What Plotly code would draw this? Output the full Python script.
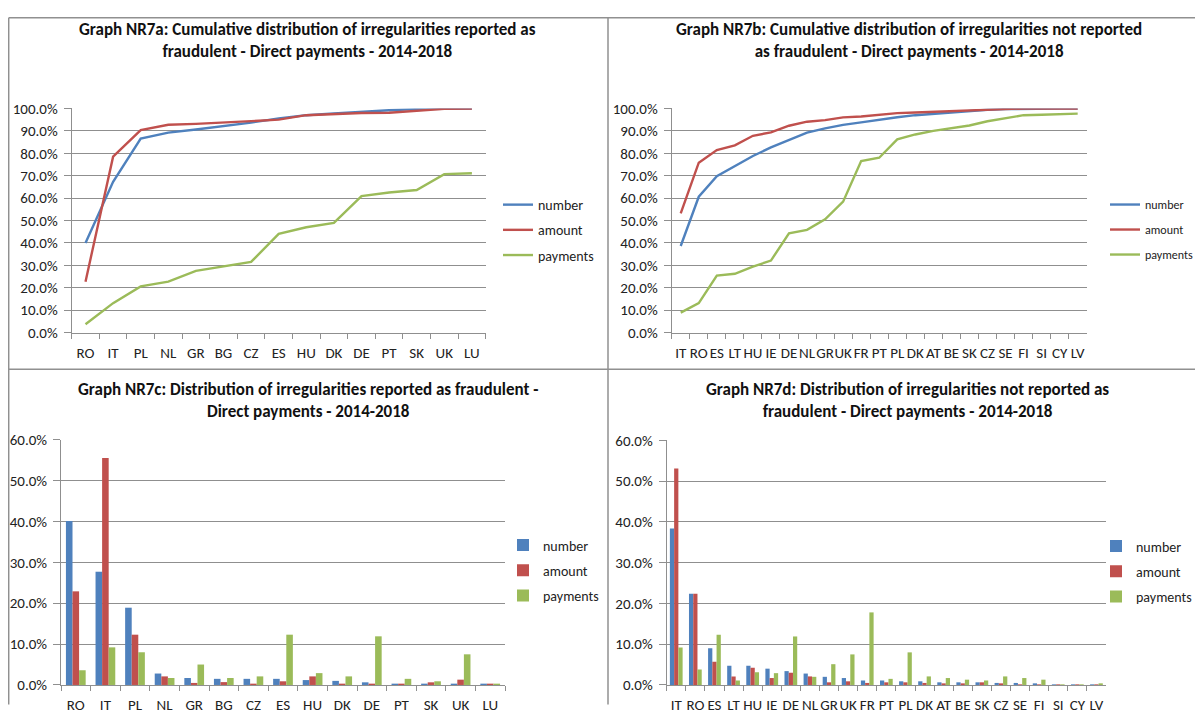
import plotly.graph_objects as go

# Page geometry (measured from earlier renders): figure starts 8px from the left;
# vertically the photographed page maps figure-y to screen-y as  y_screen = Y0 + SY * y_fig
OFFX = 8
Y0, SY = 16.7, 0.976
FW, FH = 1203 - OFFX, 706

# ---------------- DATA ----------------
series_names = ["number", "amount", "payments"]

cats_a = ["RO", "IT", "PL", "NL", "GR", "BG", "CZ", "ES", "HU", "DK", "DE", "PT", "SK", "UK", "LU"]
num_a = [0.400, 0.673, 0.866, 0.892, 0.906, 0.921, 0.937, 0.955, 0.970, 0.978, 0.986, 0.992, 0.997, 1.000, 1.000]
amt_a = [0.227, 0.785, 0.903, 0.927, 0.931, 0.937, 0.941, 0.950, 0.970, 0.976, 0.980, 0.981, 0.988, 0.998, 1.000]
pay_a = [0.037, 0.131, 0.206, 0.227, 0.275, 0.294, 0.315, 0.440, 0.470, 0.489, 0.609, 0.625, 0.636, 0.707, 0.711]

cats_b = ["IT", "RO", "ES", "LT", "HU", "IE", "DE", "NL", "GR", "UK", "FR", "PT", "PL", "DK", "AT", "BE",
          "SK", "CZ", "SE", "FI", "SI", "CY", "LV"]
num_b = [0.386, 0.606, 0.698, 0.743, 0.788, 0.826, 0.859, 0.892, 0.911, 0.927, 0.938, 0.950, 0.961, 0.970,
         0.976, 0.984, 0.990, 0.994, 0.997, 0.999, 1.000, 1.000, 1.000]
amt_b = [0.532, 0.758, 0.814, 0.835, 0.878, 0.893, 0.923, 0.941, 0.948, 0.960, 0.964, 0.973, 0.979, 0.982,
         0.985, 0.990, 0.994, 0.997, 0.999, 1.000, 1.000, 1.000, 1.000]
pay_b = [0.089, 0.131, 0.254, 0.262, 0.294, 0.321, 0.443, 0.458, 0.505, 0.584, 0.765, 0.780, 0.862, 0.884,
         0.900, 0.911, 0.924, 0.943, 0.958, 0.970, 0.972, 0.973, 0.977]

cats_c = ["RO", "IT", "PL", "NL", "GR", "BG", "CZ", "ES", "HU", "DK", "DE", "PT", "SK", "UK", "LU"]
num_c = [0.401, 0.277, 0.189, 0.028, 0.017, 0.015, 0.015, 0.015, 0.012, 0.010, 0.0065, 0.002, 0.002, 0.002, 0.001]
amt_c = [0.229, 0.555, 0.123, 0.021, 0.005, 0.007, 0.003, 0.009, 0.021, 0.002, 0.002, 0.002, 0.0065, 0.013, 0.001]
pay_c = [0.036, 0.092, 0.080, 0.017, 0.050, 0.017, 0.021, 0.123, 0.029, 0.021, 0.119, 0.015, 0.009, 0.075, 0.001]

cats_d = cats_b
num_d = [0.384, 0.224, 0.090, 0.047, 0.047, 0.040, 0.034, 0.028, 0.020, 0.017, 0.011, 0.011, 0.009, 0.009,
         0.0065, 0.0065, 0.0065, 0.005, 0.005, 0.0025, 0.0015, 0.0015, 0.0015]
amt_d = [0.531, 0.224, 0.057, 0.021, 0.042, 0.017, 0.030, 0.021, 0.0065, 0.009, 0.005, 0.0065, 0.0065, 0.005,
         0.0025, 0.0025, 0.0065, 0.002, 0.0015, 0.0015, 0.001, 0.001, 0.0015]
pay_d = [0.092, 0.038, 0.123, 0.011, 0.031, 0.029, 0.119, 0.020, 0.051, 0.075, 0.178, 0.015, 0.080, 0.021,
         0.017, 0.013, 0.011, 0.021, 0.017, 0.013, 0.0015, 0.0015, 0.004]

titles = [
    "Graph NR7a: Cumulative distribution of irregularities reported as<br>fraudulent - Direct payments - 2014-2018",
    "Graph NR7b: Cumulative distribution of irregularities not reported<br>as fraudulent - Direct payments - 2014-2018",
    "Graph NR7c: Distribution of irregularities reported as fraudulent -<br>Direct payments - 2014-2018",
    "Graph NR7d: Distribution of irregularities not reported as<br>fraudulent - Direct payments - 2014-2018",
]

colors = ["#4F81BD", "#C0504D", "#9BBB59"]
GRID = "#8f8f8f"
FONT = "Calibri, Carlito, 'Liberation Sans', Arial, sans-serif"

# helpers: screen pixel -> paper fraction
def px(x):
    return (x - OFFX) / FW

def py(y):
    yf = (y - Y0) / SY
    yf = min(max(yf, 0.8), FH - 0.5)
    return 1 - yf / FH

fig = go.Figure()

panels = [
    ("", "legend", cats_a, [num_a, amt_a, pay_a], "line"),
    ("2", "legend2", cats_b, [num_b, amt_b, pay_b], "line"),
    ("3", "legend3", cats_c, [num_c, amt_c, pay_c], "bar"),
    ("4", "legend4", cats_d, [num_d, amt_d, pay_d], "bar"),
]

for k, (sfx, lg, cats, series, kind) in enumerate(panels):
    for i, (name, vals) in enumerate(zip(series_names, series)):
        if kind == "line":
            fig.add_trace(go.Scatter(
                x=cats, y=vals, name=name, mode="lines",
                line=dict(color=colors[i], width=2.4),
                xaxis="x" + sfx, yaxis="y" + sfx, legend=lg,
                legendgroup=f"{lg}_{i}",
            ))
        else:
            fig.add_trace(go.Bar(
                x=cats, y=vals, name=name, marker=dict(color=colors[i], line=dict(width=0)),
                xaxis="x" + sfx, yaxis="y" + sfx, legend=lg,
                legendgroup=f"{lg}_{i}",
            ))

# (x0, x1, ytop, ybottom, ymax, dtick) in screen pixels
domains = [
    (71.7, 485.7, 108.3, 332.7, 1.0, 0.1),
    (671.7, 1086.7, 108.3, 332.7, 1.0, 0.1),
    (61.0, 505.0, 440.0, 685.7, 0.6, 0.1),
    (666.7, 1106.0, 440.7, 685.7, 0.6, 0.1),
]

layout = dict(
    width=FW, height=FH,
    margin=dict(l=0, r=0, t=0, b=0),
    paper_bgcolor="white", plot_bgcolor="white",
    barmode="group", bargap=0.333, bargroupgap=0,
    font=dict(family=FONT, size=15, color="#222222"),
    showlegend=True,
)

for k, (sfx, lg, cats, series, kind) in enumerate(panels):
    x0, x1, yt, yb, ymax, dt = domains[k]
    layout["xaxis" + sfx] = dict(
        domain=[px(x0), px(x1)], anchor="y" + sfx, type="category",
        range=[-0.5, len(cats) - 0.5],
        showgrid=False, showline=True, linecolor=GRID, linewidth=1,
        ticks="outside", tickson="boundaries", ticklen=5, tickcolor=GRID,
        tickangle=0, ticklabelstandoff=6,
        tickfont=dict(size=15, color="#222222"), fixedrange=True,
    )
    layout["yaxis" + sfx] = dict(
        domain=[py(yb), py(yt)], anchor="x" + sfx,
        range=[0, ymax], dtick=dt, tick0=0, tickformat=".1%",
        showgrid=True, gridcolor=GRID, gridwidth=1,
        showline=True, linecolor=GRID, linewidth=1,
        ticks="outside", ticklen=7, tickcolor=GRID, ticklabelstandoff=3,
        zeroline=False,
        tickfont=dict(size=15, color="#222222"), fixedrange=True,
    )

# legend placement (screen px): x, y(top), xanchor, font size, gap
legend_cfg = [
    (498, 189, "left", 14, 4),
    (1199, 190, "right", 12, 6),
    (503, 530, "left", 14, 4),
    (1197, 531, "right", 14, 4),
]
for k, (sfx, lg, cats, series, kind) in enumerate(panels):
    lx, ly, xa, fs, gap = legend_cfg[k]
    layout[lg] = dict(
        x=px(lx), y=py(ly), xanchor=xa, yanchor="top",
        bgcolor="rgba(0,0,0,0)", font=dict(size=fs, color="#222222"),
        tracegroupgap=gap, itemwidth=30,
    )

fig.update_layout(**layout)

title_pos = [(307.5, 40), (909, 40), (308, 401), (907, 401)]
for (tx, ty), t in zip(title_pos, titles):
    fig.add_annotation(
        x=px(tx), y=py(ty), xref="paper", yref="paper",
        text="<b>" + t + "</b>", showarrow=False, align="center",
        xanchor="center", yanchor="middle",
        font=dict(size=17, color="#111111", family=FONT),
    )

BORDER = "#909090"
for (xa_, ya_, xb_, yb_) in [(8.7, 7, 1203, 7), (8.7, 369.5, 1203, 369.5), (8.7, 7, 8.7, 716), (608, 7, 608, 716)]:
    fig.add_shape(type="line", xref="paper", yref="paper",
                  x0=px(xa_), y0=py(ya_), x1=px(xb_), y1=py(yb_),
                  line=dict(color=BORDER, width=1.5))

fig.write_html("out.html")
